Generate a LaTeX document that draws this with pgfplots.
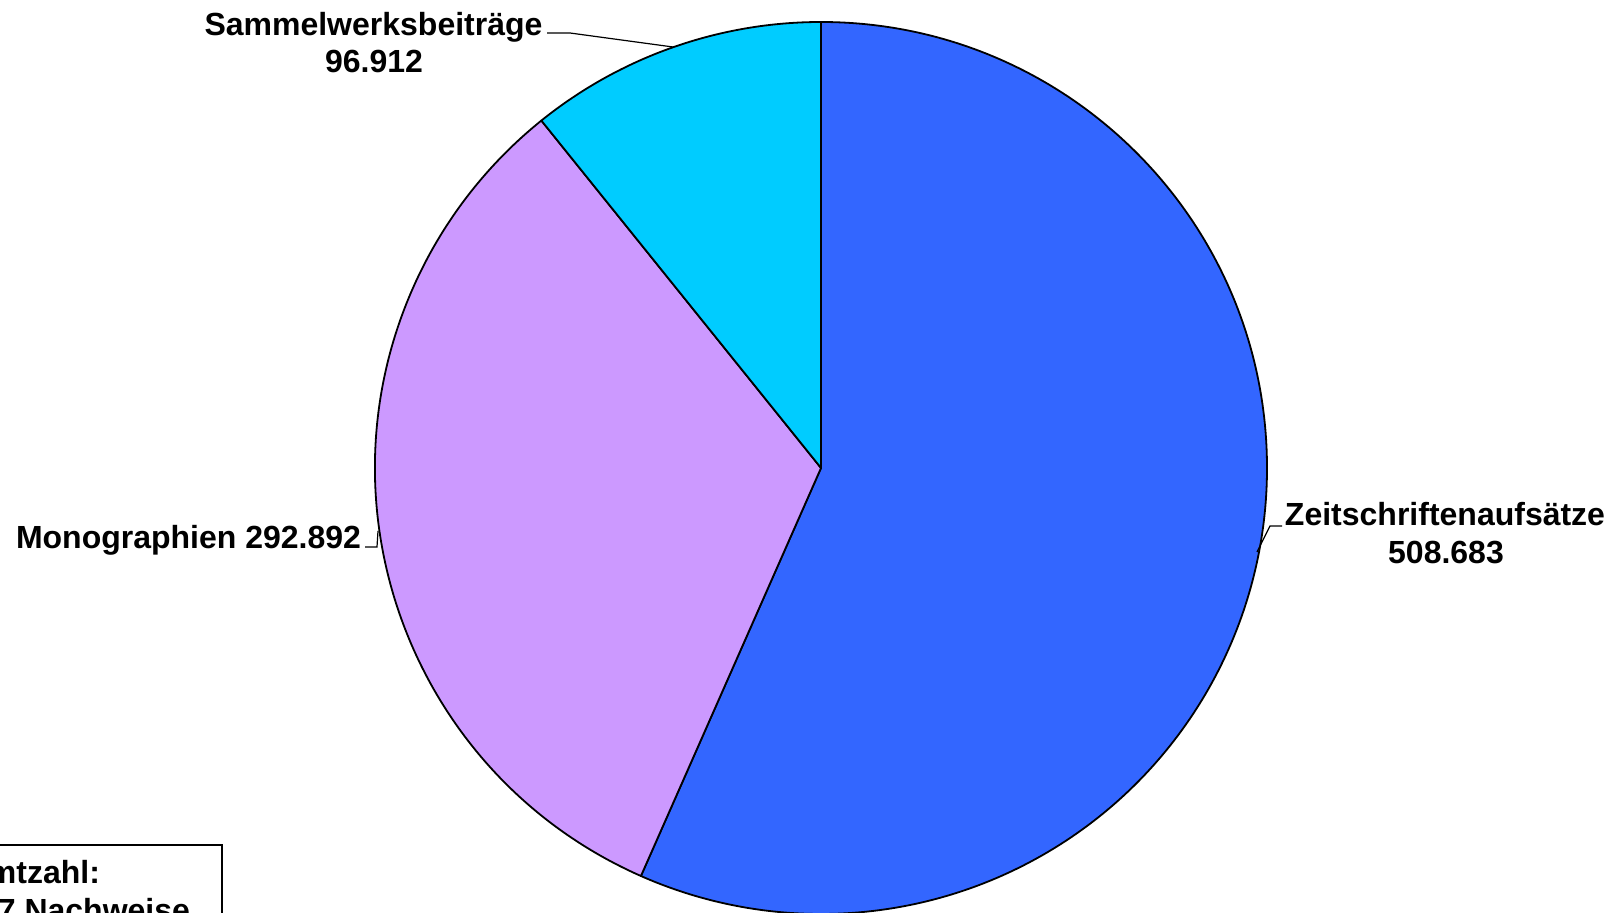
\documentclass[border=0pt]{standalone}
\usepackage{pgfplots}
\usepackage{pgfplotstable}
\pgfplotsset{compat=1.18}
\usepackage{fontspec}
\setmainfont{Liberation Sans}
\definecolor{zcol}{HTML}{3366FF}
\definecolor{mcol}{HTML}{CC99FF}
\definecolor{scol}{HTML}{00CCFF}

\pgfplotstableread{
label value
Zeitschriftenaufsaetze 508683
Monographien 292892
Sammelwerksbeitraege 96912
}\piedata

\tikzset{lbl/.style={font=\bfseries\fontsize{16}{18.5}\selectfont, inner sep=0pt, outer sep=0pt}}

\begin{document}
\begin{tikzpicture}
\pgfplotstablegetelem{0}{value}\of\piedata \edef\vA{\pgfplotsretval}
\pgfplotstablegetelem{1}{value}\of\piedata \edef\vB{\pgfplotsretval}
\pgfplotstablegetelem{2}{value}\of\piedata \edef\vC{\pgfplotsretval}
\edef\total{\fpeval{\vA+\vB+\vC}}
\edef\aZero{90}
\edef\aOne{\fpeval{90-360*\vA/\total}}
\edef\aTwo{\fpeval{\aOne-360*\vB/\total}}
\edef\aThree{\fpeval{\aTwo-360*\vC/\total}}
\def\R{223pt}
\path[use as bounding box, clip] (0,0) rectangle (808pt,456.5pt);
\begin{axis}[
  at={(0,0)}, anchor=south west,
  scale only axis, width=808pt, height=456.5pt,
  xmin=0, xmax=1616, ymin=0, ymax=913, y dir=reverse,
  hide axis, clip=false,
]
\filldraw[fill=zcol, draw=black, line width=0.9pt, line join=round]
  (axis cs:821,468) -- ++(\aZero:\R) arc[start angle=\aZero, end angle=\aOne, radius=\R] -- cycle;
\filldraw[fill=mcol, draw=black, line width=0.9pt, line join=round]
  (axis cs:821,468) -- ++(\aOne:\R) arc[start angle=\aOne, end angle=\aTwo, radius=\R] -- cycle;
\filldraw[fill=scol, draw=black, line width=0.9pt, line join=round]
  (axis cs:821,468) -- ++(\aTwo:\R) arc[start angle=\aTwo, end angle=\aThree, radius=\R] -- cycle;
% leader lines
\draw[line width=0.6pt] (axis cs:547,33) -- (axis cs:570,33) -- (axis cs:673,47);
\draw[line width=0.6pt] (axis cs:365,547) -- (axis cs:377,547) -- (axis cs:378,531);
\draw[line width=0.6pt] (axis cs:1282,526) -- (axis cs:1270,526) -- (axis cs:1257,552);
% labels
\node[lbl, anchor=base] at (axis cs:373.5,36) {Sammelwerksbeiträge};
\node[lbl, anchor=base] at (axis cs:374,73) {96.912};
\node[lbl, anchor=base] at (axis cs:188.5,548) {Monographien 292.892};
\node[lbl, anchor=base] at (axis cs:1445,526) {Zeitschriftenaufsätze};
\node[lbl, anchor=base] at (axis cs:1446,563) {508.683};
% total box
\draw[line width=0.8pt, fill=white] (axis cs:-120,845) rectangle (axis cs:222,980);
\node[lbl, anchor=base east] at (axis cs:100,883) {Gesamtzahl:};
\node[lbl, anchor=base east] at (axis cs:190,921) {898.487 Nachweise};
\end{axis}
\end{tikzpicture}
\end{document}
